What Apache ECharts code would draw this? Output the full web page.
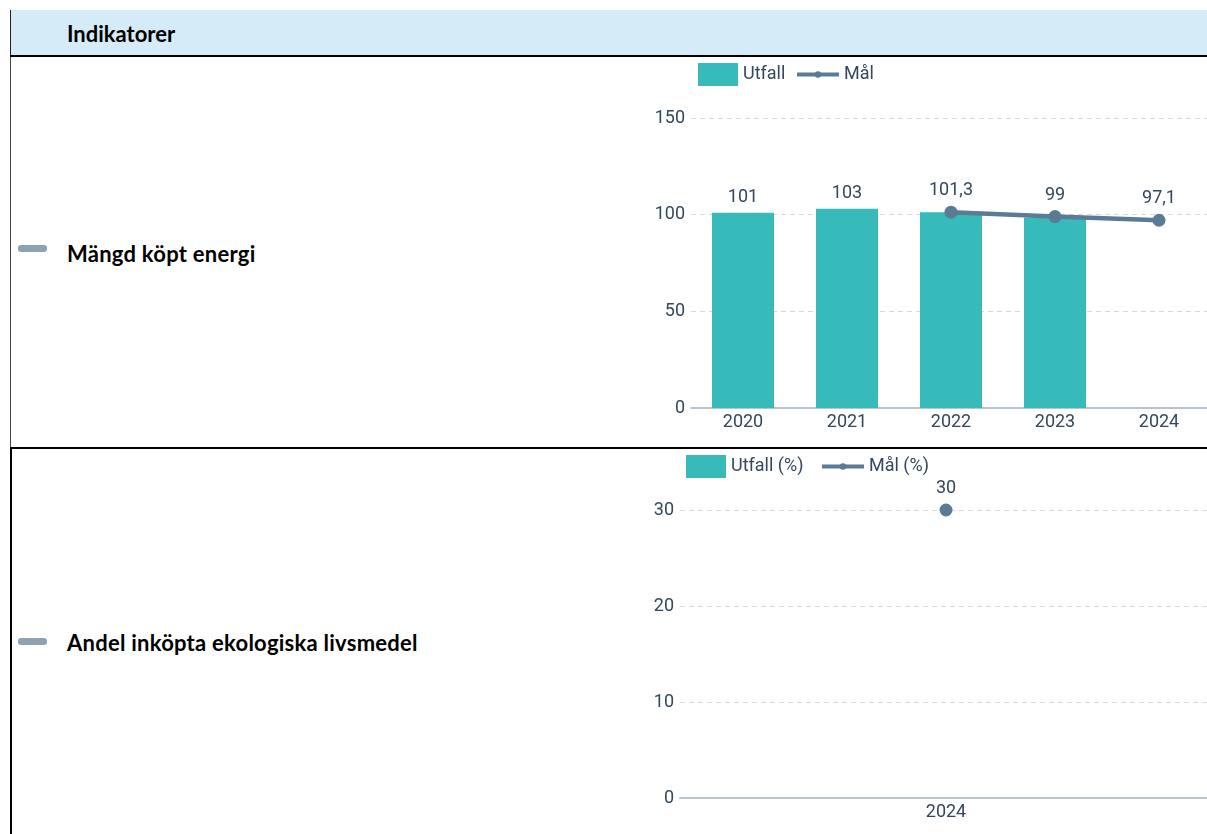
<!DOCTYPE html>
<html lang="sv">
<head>
<meta charset="utf-8">
<title>Indikatorer</title>
<script src="https://cdn.jsdelivr.net/npm/echarts@6/dist/echarts.min.js"></script>
<style>
  html, body { margin: 0; padding: 0; background: #fff; overflow: hidden; }
  body { width: 1207px; height: 834px; position: relative; font-family: Lato, "Open Sans", sans-serif; }
  .hdr { position: absolute; left: 10px; top: 10px; width: 1197px; height: 47px; background: #d5ebf7;
         border-left: 1px solid #222; border-bottom: 2px solid #000; box-sizing: border-box; }
  .hdr span { position: absolute; left: 56px; top: 11px; font-weight: 700; font-size: 22px; line-height: 26px; color: #000; }
  .row { position: absolute; left: 10px; width: 1197px; box-sizing: border-box; }
  .row1 { top: 57px; height: 390px; border-left: 1px solid #444; }
  .row2 { top: 447px; height: 387px; border-left: 2px solid #000; border-top: 2px solid #000; }
  .dash { position: absolute; left: 7px; width: 29px; height: 7px; border-radius: 3px; background: #8da2b5; filter: blur(0.6px); }
  .lbl { position: absolute; left: 56px; font-weight: 700; font-size: 22px; line-height: 26px; letter-spacing: 0.25px; color: #000; }
  .chart { position: absolute; left: 600px; width: 620px; }
</style>
</head>
<body>
<div class="hdr"><span>Indikatorer</span></div>
<div class="row row1">
  <div class="dash" style="top:188px"></div>
  <div class="lbl" style="top:184px">Mängd köpt energi</div>
</div>
<div class="row row2">
  <div class="dash" style="top:189px;left:6px"></div>
  <div class="lbl" style="top:181px;left:55px">Andel inköpta ekologiska livsmedel</div>
</div>
<div id="c1" class="chart" style="top:57px;height:390px"></div>
<div id="c2" class="chart" style="top:449px;height:385px"></div>
<script>
// Mängd köpt energi
const energyYears = ['2020', '2021', '2022', '2023', '2024'];
const energyUtfall = [101, 103, 101.3, 98.5, null];
const energyMal = [null, null, 101.3, 99, 97.1];
const energyTicks = { min: 0, max: 150, interval: 50 };

// Andel inköpta ekologiska livsmedel
const ekoYears = ['2024'];
const ekoUtfall = [null];
const ekoMal = [30];
const ekoTicks = { min: 0, max: 30, interval: 10 };

const TEAL = '#37baba';
const SLATE = '#5b7a94';
const TEXT = '#34475c';
const FONT = 'Roboto';
const FS = 18;
const LS = 0.8;

const fmt = v => String(v).replace('.', ',');

// cfg: grid/legend placement for one chart
function build(years, utfall, mal, ticks, names, cfg) {
  const legendText = { fontFamily: FONT, fontSize: FS, color: TEXT, letterSpacing: LS };
  const valueLabel = {
    show: true, position: 'top', distance: 6, color: TEXT, fontSize: FS, fontFamily: FONT,
    letterSpacing: LS, formatter: p => fmt(p.value)
  };
  return {
    animation: false,
    textStyle: { fontFamily: FONT },
    legend: [
      {
        left: cfg.legendLeft, top: 6, padding: 0, itemWidth: 40, itemHeight: 23,
        textStyle: legendText, data: [{ name: names[0], icon: 'rect' }]
      },
      {
        left: cfg.legend2Left, top: 6, padding: 0, itemWidth: 42, itemHeight: 8, height: 23,
        lineStyle: { width: 4 },
        textStyle: Object.assign({ lineHeight: 23 }, legendText), data: [names[1]]
      }
    ],
    grid: { left: cfg.gridLeft, top: 61, width: cfg.gridWidth, height: cfg.gridHeight },
    xAxis: {
      type: 'category', data: years,
      axisLine: { lineStyle: { color: '#b9c3cc', width: 2 } },
      axisTick: { show: false },
      axisLabel: { color: TEXT, fontSize: FS, fontFamily: FONT, margin: 5, letterSpacing: LS }
    },
    yAxis: {
      type: 'value', min: ticks.min, max: ticks.max, interval: ticks.interval,
      axisLine: { show: false }, axisTick: { show: false },
      axisLabel: { color: TEXT, fontSize: FS, fontFamily: FONT, margin: 6, letterSpacing: LS },
      splitLine: { lineStyle: { color: '#d6d9dc', type: [5, 4] } }
    },
    series: [
      {
        name: names[0], type: 'bar', barWidth: 62,
        itemStyle: { color: TEAL },
        data: utfall.map((v, i) => cfg.hiddenBarLabels.includes(i) ? { value: v, label: { show: false } } : v),
        label: valueLabel
      },
      {
        name: names[1], type: 'line', data: mal,
        symbol: 'circle', symbolSize: 13,
        lineStyle: { color: SLATE, width: 4.5 },
        itemStyle: { color: SLATE },
        label: valueLabel
      }
    ]
  };
}

const c1 = echarts.init(document.getElementById('c1'));
c1.setOption(build(energyYears, energyUtfall, energyMal, energyTicks, ['Utfall', 'Mål'], {
  legendLeft: 98, legend2Left: 195, gridLeft: 91, gridWidth: 520, gridHeight: 290, hiddenBarLabels: [2, 3]
}));

const c2 = echarts.init(document.getElementById('c2'));
c2.setOption(build(ekoYears, ekoUtfall, ekoMal, ekoTicks, ['Utfall (%)', 'Mål (%)'], {
  legendLeft: 86, legend2Left: 220, gridLeft: 80, gridWidth: 532, gridHeight: 288, hiddenBarLabels: []
}));
</script>
</body>
</html>
